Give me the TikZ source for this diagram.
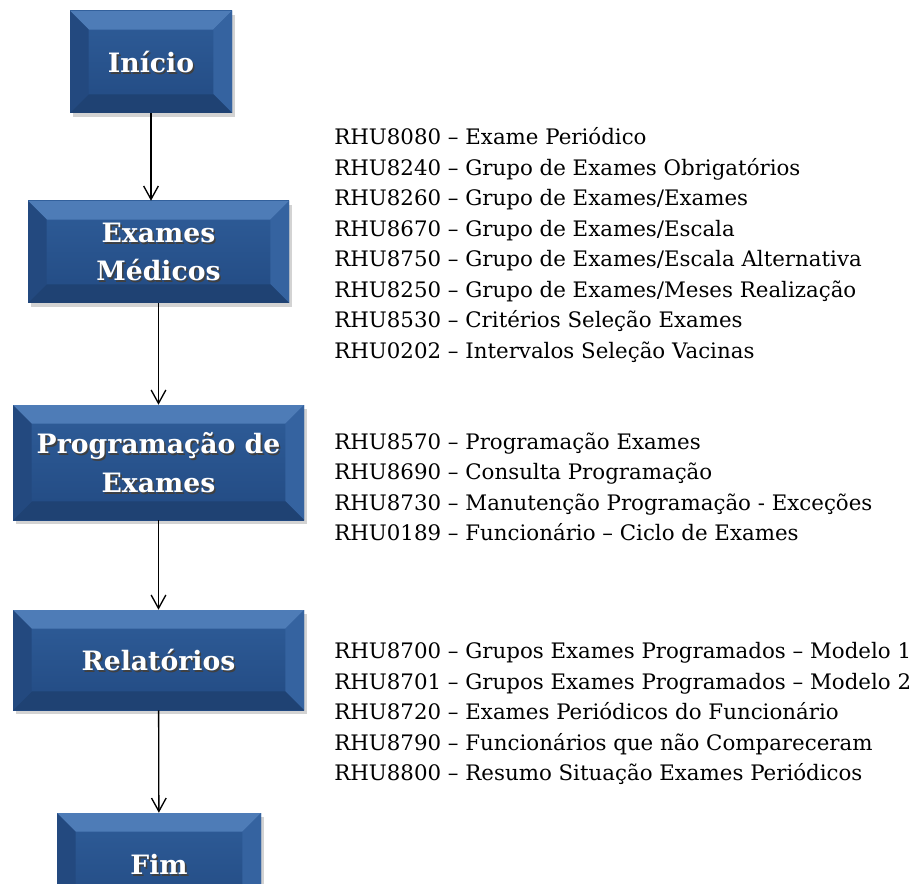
\documentclass[tikz,border=0pt]{standalone}
\usepackage{fontspec}
\setmainfont{DejaVu Serif}
\usetikzlibrary{arrows.meta,shadows}

\definecolor{azultopo}{HTML}{2F5D99}
\definecolor{azulbase}{HTML}{224A82}
\definecolor{azulclaro}{HTML}{4E7CB7}
\definecolor{azulmedio}{HTML}{3563A0}
\definecolor{azulescuro}{HTML}{23497F}
\definecolor{azulfundo}{HTML}{1F4273}

% bisel das caixas
\newcommand{\bs}{14pt}
\newcommand{\bisel}{%
  \path (path picture bounding box.north west) coordinate (bNW)
        (path picture bounding box.north east) coordinate (bNE)
        (path picture bounding box.south east) coordinate (bSE)
        (path picture bounding box.south west) coordinate (bSW);
  \fill[azulclaro] (bNW) -- (bNE) -- ([shift={(-\bs,-\bs)}]bNE) -- ([shift={(\bs,-\bs)}]bNW) -- cycle;
  \fill[azulmedio] (bNE) -- (bSE) -- ([shift={(-\bs,\bs)}]bSE) -- ([shift={(-\bs,-\bs)}]bNE) -- cycle;
  \fill[azulfundo] (bSE) -- (bSW) -- ([shift={(\bs,\bs)}]bSW) -- ([shift={(-\bs,\bs)}]bSE) -- cycle;
  \fill[azulescuro] (bSW) -- (bNW) -- ([shift={(\bs,-\bs)}]bNW) -- ([shift={(\bs,\bs)}]bSW) -- cycle;
}
% texto branco com sombra
\newcommand{\sombra}[1]{\rlap{\kern1.2pt\raisebox{-1.4pt}[0pt][0pt]{\color{black!75}#1}}#1}

\tikzset{
  etapa/.style={rectangle, inner sep=0pt, align=center, text=white,
    font=\fontsize{20}{29}\selectfont\bfseries,
    top color=azultopo, bottom color=azulbase,
    drop shadow={shadow xshift=2pt, shadow yshift=-3pt, opacity=.35},
    path picture={\bisel}},
  lista/.style={anchor=west, align=left, inner sep=0pt,
    font=\fontsize{16}{22.9}\selectfont},
  seta/.style={-{Straight Barb[length=10pt,width=11pt]}, line width=1pt},
}

\begin{document}
\begin{tikzpicture}[x=0.75pt, y=-0.75pt]
\useasboundingbox (0,0) rectangle (921,884);

\node[etapa, minimum width=162*0.75pt, minimum height=102*0.75pt] (inicio) at (151,62) {\sombra{Início}};
\node[etapa, minimum width=261*0.75pt, minimum height=102*0.75pt] (exames) at (158.5,252) {\sombra{Exames}\\\sombra{Médicos}};
\node[etapa, minimum width=291*0.75pt, minimum height=115*0.75pt] (prog) at (158.5,462.5) {\sombra{Programação de}\\\sombra{Exames}};
\node[etapa, minimum width=291*0.75pt, minimum height=100*0.75pt] (relat) at (158.5,660) {\sombra{Relatórios}};
\node[etapa, minimum width=204*0.75pt, minimum height=102*0.75pt] (fim) at (159,864) {\sombra{Fim}};

\draw[seta] (inicio.south) -- (inicio.south |- exames.north);
\draw[seta] (exames) -- (prog);
\draw[seta] (prog) -- (relat);
\draw[seta] (relat) -- (fim);

\node[lista] (lista1) at (334,245) {RHU8080 – Exame Periódico\\
  RHU8240 – Grupo de Exames Obrigatórios\\
  RHU8260 – Grupo de Exames/Exames\\
  RHU8670 – Grupo de Exames/Escala\\
  RHU8750 – Grupo de Exames/Escala Alternativa\\
  RHU8250 – Grupo de Exames/Meses Realização\\
  RHU8530 – Critérios Seleção Exames\\
  RHU0202 – Intervalos Seleção Vacinas};

\node[lista] (lista2) at (334,487) {RHU8570 – Programação Exames\\
  RHU8690 – Consulta Programação\\
  RHU8730 – Manutenção Programação - Exceções\\
  RHU0189 – Funcionário – Ciclo de Exames};

\node[lista] (lista3) at (334,713.5) {RHU8700 – Grupos Exames Programados – Modelo 1\\
  RHU8701 – Grupos Exames Programados – Modelo 2\\
  RHU8720 – Exames Periódicos do Funcionário\\
  RHU8790 – Funcionários que não Compareceram\\
  RHU8800 – Resumo Situação Exames Periódicos};
\end{tikzpicture}
\end{document}
